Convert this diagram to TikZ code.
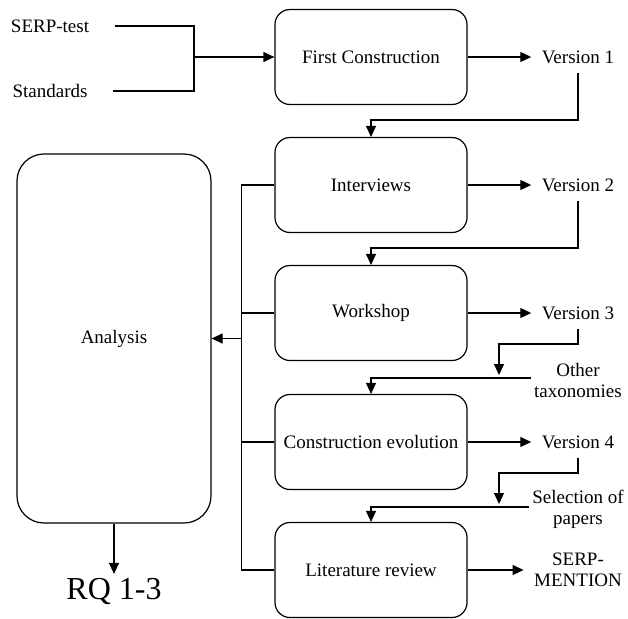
\documentclass[tikz,border=0pt]{standalone}
\usepackage{fontspec}
\setmainfont{Liberation Serif}
\usetikzlibrary{arrows.meta,positioning}

\begin{document}
\begin{tikzpicture}[x=1pt, y=-1pt, line width=1.2pt, >={Triangle[length=11pt,width=10pt]},
    every node/.style={font=\fontsize{19}{21}\selectfont},
    stage/.style={draw, rounded corners=15pt, minimum width=192pt, minimum height=95pt},
    bigbox/.style={draw, rounded corners=27pt, minimum width=194pt, minimum height=369pt},
    ver/.style={inner xsep=10pt, inner ysep=9pt, align=center},
    src/.style={align=center}]

    \useasboundingbox (0,0) rectangle (628,618);

    % stages
    \node[stage] (first) at (371,57) {First Construction};
    \node[stage] (interviews) at (371,185) {Interviews};
    \node[stage] (workshop) at (371,313) {Workshop};
    \node[stage] (evolution) at (371,442) {Construction evolution};
    \node[stage] (litreview) at (371,570) {Literature review};

    \node[bigbox] (analysis) at (114,338.5) {Analysis};
    \node (rq) at (114,591) {\fontsize{32}{34}\selectfont RQ 1-3};

    % inputs
    \node[src] (serp) at (50,26) {SERP-test};
    \node[src] (standards) at (50,91) {Standards};
    \node[src, inner sep=3pt] (other) at (578,380) {Other\\taxonomies};
    \node[src, inner sep=3pt] (selection) at (578,509) {Selection of\\papers};

    % outputs
    \node[ver] (v1) at (578,57) {Version 1};
    \node[ver] (v2) at (578,185) {Version 2};
    \node[ver] (v3) at (578,313) {Version 3};
    \node[ver] (v4) at (578,442) {Version 4};
    \node[ver] (mention) at (578,570) {SERP-\\MENTION};

    \coordinate (merge) at (194,57);
    \coordinate (drop3) at (499,375);
    \coordinate (drop4) at (499,504);
    \coordinate (bus) at (242,338.5);

    \draw ([xshift=22pt]serp.east) -| (merge);
    \draw ([xshift=22pt]standards.east) -| (merge);
    \draw[->] (merge) -- (first.west);

    \draw[->] (first.east) -- (v1.west);
    \draw[->] (interviews.east) -- (v2.west);
    \draw[->] (workshop.east) -- (v3.west);
    \draw[->] (evolution.east) -- (v4.west);
    \draw[->] (litreview.east) -- (mention.west);

    \draw[->] (v1.south) |- ([yshift=17pt]interviews.north) -- (interviews.north);
    \draw[->] (v2.south) |- ([yshift=17pt]workshop.north) -- (workshop.north);
    \draw[->] (v3.south) -- ++(0,15) -| (drop3);
    \draw[->] (v4.south) -- ++(0,15) -| (drop4);
    \draw[->] ([yshift=2pt]other.west) -| (evolution.north);
    \draw[->] ([yshift=2pt]selection.west) -| (litreview.north);

    \draw (interviews.west) -- ++(-33,0) |- (litreview.west);
    \draw (workshop.west) -- ++(-33,0);
    \draw (evolution.west) -- ++(-33,0);
    \draw[->] (bus) -- (analysis.east);
    \draw[->] (analysis.south) -- (rq.north);

\end{tikzpicture}
\end{document}
